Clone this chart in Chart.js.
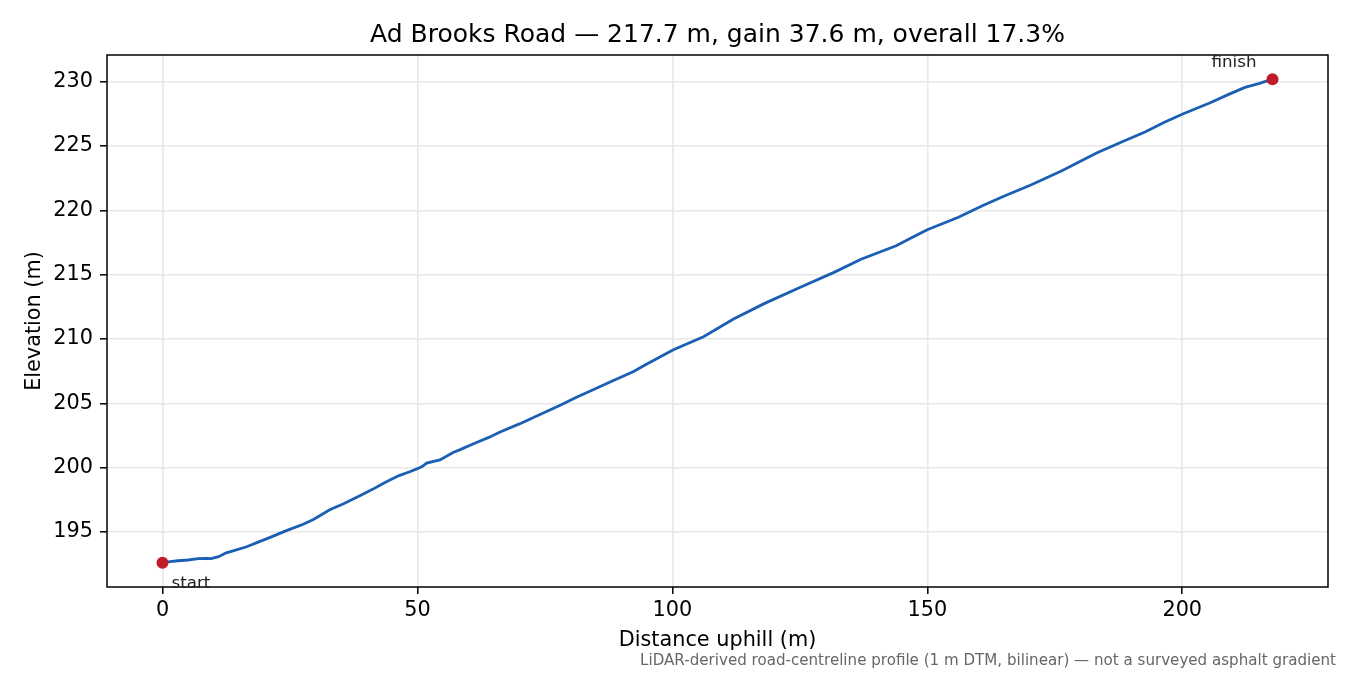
<!DOCTYPE html>
<html>
<head>
<meta charset="utf-8">
<title>Ad Brooks Road elevation profile</title>
<script src="https://cdn.jsdelivr.net/npm/chart.js@4.4.1/dist/chart.umd.min.js"></script>
<style>
  html, body { margin: 0; padding: 0; background: #fff; }
  canvas { display: block; }
</style>
</head>
<body>
<canvas id="profileChart" width="1350" height="675"></canvas>
<script>
// Profile (distance uphill in m, elevation in m)
const distance = [
    0, 1.5, 3, 5, 7, 8.5, 9.5, 11, 12.5, 14, 16.5, 19, 21, 24.3, 27.6, 29.5,
    31, 32.8, 35.4, 38.7, 41.3, 43, 44.6, 46.4, 48.5, 50, 51, 51.8, 54.4, 57,
    58.5, 61, 64, 66.1, 70, 75, 78, 81.2, 85, 88, 92.3, 95, 100.1, 106.1, 112,
    118, 125.1, 131.7, 137, 143.9, 147, 150, 156.1, 160.8, 165, 170.3, 176.4, 183.2,
    188, 192.7, 196.5, 200.1, 205.6, 209, 212.3, 215, 217.7
];
const elevation = [
    192.6, 192.7, 192.76, 192.82, 192.93, 192.95, 192.93, 193.08, 193.38, 193.55,
    193.85, 194.25, 194.56, 195.1, 195.6, 195.95, 196.3, 196.72, 197.18, 197.82,
    198.33, 198.7, 199.03, 199.38, 199.68, 199.92, 200.1, 200.35, 200.6, 201.18,
    201.42, 201.85, 202.35, 202.75, 203.4, 204.3, 204.85, 205.47, 206.15, 206.7,
    207.46, 208.05, 209.15, 210.18, 211.55, 212.75, 214.02, 215.18, 216.2, 217.25,
    217.9, 218.5, 219.46, 220.36, 221.1, 221.97, 223.08, 224.46, 225.3, 226.1,
    226.85, 227.5, 228.39, 229.0, 229.56, 229.85, 230.2
];

const endpointLabels = ['start', 'finish'];
const xTicks = [0, 50, 100, 150, 200];
const yTicks = [195, 200, 205, 210, 215, 220, 225, 230];

const titleText = 'Ad Brooks Road \u2014 217.7 m, gain 37.6 m, overall 17.3%';
const xLabel = 'Distance uphill (m)';
const yLabel = 'Elevation (m)';
const footnote = 'LiDAR-derived road-centreline profile (1 m DTM, bilinear) \u2014 not a surveyed asphalt gradient';

const FONT = '"DejaVu Sans", "Liberation Sans", sans-serif';

// matplotlib-style 5% margins around the data
function paddedRange(values) {
    const lo = Math.min(...values);
    const hi = Math.max(...values);
    const pad = (hi - lo) * 0.05;
    return [lo - pad, hi + pad];
}
const [xMin, xMax] = paddedRange(distance);
const [yMin, yMax] = paddedRange(elevation);

const profilePoints = distance.map((d, i) => ({ x: d, y: elevation[i] }));
const last = distance.length - 1;
const endpoints = [
    { x: distance[0], y: elevation[0] },
    { x: distance[last], y: elevation[last] }
];

// Frame, title, endpoint labels and footnote
const decorPlugin = {
    id: 'decor',
    afterDraw(chart) {
        const { ctx, chartArea: a, scales } = chart;
        ctx.save();

        ctx.strokeStyle = '#000';
        ctx.lineWidth = 1.5;
        ctx.strokeRect(a.left, a.top, a.right - a.left, a.bottom - a.top);

        ctx.fillStyle = '#000';
        ctx.font = '25px ' + FONT;
        ctx.textAlign = 'center';
        ctx.textBaseline = 'alphabetic';
        ctx.fillText(titleText, (a.left + a.right) / 2, 42);

        const sx = scales.x.getPixelForValue(endpoints[0].x);
        const sy = scales.y.getPixelForValue(endpoints[0].y);
        const fx = scales.x.getPixelForValue(endpoints[1].x);
        const fy = scales.y.getPixelForValue(endpoints[1].y);
        ctx.font = '16.7px ' + FONT;
        ctx.fillStyle = '#222';
        ctx.textAlign = 'left';
        ctx.fillText(endpointLabels[0], sx + 9, sy + 25);
        ctx.textAlign = 'right';
        ctx.fillText(endpointLabels[1], fx - 16, fy - 12);

        ctx.font = '15.1px ' + FONT;
        ctx.fillStyle = '#666';
        ctx.textAlign = 'right';
        ctx.fillText(footnote, 1336, 665);

        ctx.restore();
    }
};

const profileChart = new Chart(document.getElementById('profileChart').getContext('2d'), {
    type: 'line',
    data: {
        datasets: [
            {
                label: 'endpoints',
                data: endpoints,
                showLine: false,
                pointRadius: 6,
                pointHoverRadius: 6,
                pointBackgroundColor: '#c01c28',
                pointBorderWidth: 0,
                order: 0
            },
            {
                label: 'profile',
                data: profilePoints,
                borderColor: '#1a5fb4',
                borderWidth: 2.8,
                pointRadius: 0,
                tension: 0,
                fill: false,
                order: 1
            }
        ]
    },
    options: {
        responsive: false,
        animation: false,
        devicePixelRatio: 1,
        layout: { padding: { left: 0, right: 22, top: 55, bottom: 0 } },
        plugins: {
            legend: { display: false },
            tooltip: { enabled: false },
            title: { display: false }
        },
        scales: {
            x: {
                type: 'linear',
                min: xMin,
                max: xMax,
                afterBuildTicks: (scale) => { scale.ticks = xTicks.map(v => ({ value: v })); },
                afterFit: (scale) => { scale.height = 88; },
                border: { display: false },
                grid: {
                    color: '#e8e8e8',
                    lineWidth: 1.6,
                    tickColor: '#000',
                    tickWidth: 1.5,
                    tickLength: 7
                },
                ticks: {
                    color: '#000',
                    padding: 4,
                    maxRotation: 0,
                    font: { family: FONT, size: 20.8 }
                },
                title: {
                    display: true,
                    text: xLabel,
                    color: '#000',
                    font: { family: FONT, size: 20.8 },
                    padding: { top: 0, bottom: 22 }
                }
            },
            y: {
                type: 'linear',
                min: yMin,
                max: yMax,
                afterBuildTicks: (scale) => { scale.ticks = yTicks.map(v => ({ value: v })); },
                afterFit: (scale) => { scale.width = 107; },
                border: { display: false },
                grid: {
                    color: '#e8e8e8',
                    lineWidth: 1.6,
                    tickColor: '#000',
                    tickWidth: 1.5,
                    tickLength: 7
                },
                ticks: {
                    color: '#000',
                    padding: 7,
                    font: { family: FONT, size: 20.8 }
                },
                title: {
                    display: true,
                    text: yLabel,
                    color: '#000',
                    font: { family: FONT, size: 20.8 },
                    padding: { top: 22, bottom: 0 }
                }
            }
        }
    },
    plugins: [decorPlugin]
});
</script>
</body>
</html>
